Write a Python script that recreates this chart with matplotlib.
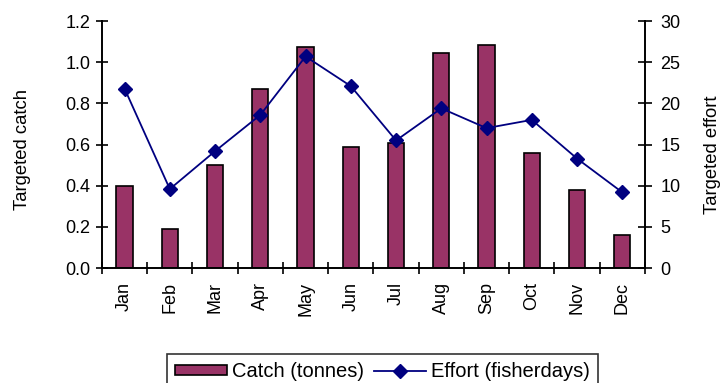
import matplotlib
matplotlib.use("Agg")
import matplotlib.pyplot as plt
import numpy as np
from matplotlib.ticker import FixedLocator, NullFormatter

plt.rcParams['font.family'] = ['Liberation Sans', 'DejaVu Sans']

months = ["Jan", "Feb", "Mar", "Apr", "May", "Jun",
          "Jul", "Aug", "Sep", "Oct", "Nov", "Dec"]
catch_tonnes = [0.40, 0.19, 0.50, 0.87, 1.075, 0.59,
                0.61, 1.045, 1.085, 0.56, 0.377, 0.163]
effort_days = [21.8, 9.6, 14.2, 18.6, 25.7, 22.1,
               15.5, 19.4, 17.0, 18.0, 13.3, 9.2]

TICK_FS = 13
TITLE_FS = 13.3

fig = plt.figure(figsize=(7.23, 3.83), dpi=100)
ax = fig.add_axes([0.141, 0.300, 0.751, 0.645])
ax2 = ax.twinx()

x = np.arange(len(months))
bars = ax.bar(x, catch_tonnes, width=0.36, color="#993366",
              edgecolor="black", linewidth=1.2, label="Catch (tonnes)", zorder=2)
line, = ax2.plot(x, effort_days, color="#000080", linewidth=1.3,
                 marker="D", markersize=7, label="Effort (fisherdays)", zorder=3)

ax.set_xlim(-0.5, len(months) - 0.5)
ax.set_ylim(0, 1.2)
ax2.set_ylim(0, 30)
yt = np.arange(0, 1.21, 0.2)
ax.set_yticks(yt)
ax.set_yticklabels([f"{v:.1f}" for v in yt])
ax2.set_yticks(np.arange(0, 31, 5))

ax.set_xticks(x)
ax.set_xticklabels(months, rotation=90)
ax.xaxis.set_minor_locator(FixedLocator(np.arange(-0.5, len(months), 1.0)))
ax.xaxis.set_minor_formatter(NullFormatter())
ax.tick_params(axis="x", which="major", length=0, pad=10, labelsize=TICK_FS)
ax.tick_params(axis="x", which="minor", direction="inout", length=9, width=1.2)
ax.tick_params(axis="y", direction="inout", length=9, width=1.2,
               labelsize=TICK_FS, pad=4)
ax2.tick_params(axis="y", direction="inout", length=10, width=1.2,
                labelsize=TICK_FS, pad=6)

for a in (ax, ax2):
    a.spines["top"].set_visible(False)
    for s in ("left", "right", "bottom"):
        a.spines[s].set_linewidth(1.2)
        a.spines[s].set_color("black")

ax.set_ylabel("Targeted catch", fontsize=TITLE_FS)
ax.yaxis.set_label_coords(-0.131, 0.48)
ax2.set_ylabel("Targeted effort", fontsize=TITLE_FS, rotation=90)
ax2.yaxis.set_label_coords(1.108, 0.457)

leg = fig.legend([bars, line], ["Catch (tonnes)", "Effort (fisherdays)"],
                 loc="upper center", bbox_to_anchor=(0.529, 0.076), ncol=2,
                 frameon=True, fancybox=False, edgecolor="black",
                 fontsize=14.5, handlelength=2.6, handleheight=0.4,
                 handletextpad=0.25, columnspacing=0.5, borderpad=0.4,
                 borderaxespad=0)
leg.get_frame().set_linewidth(1.2)

fig.savefig("out.png", dpi=100)
